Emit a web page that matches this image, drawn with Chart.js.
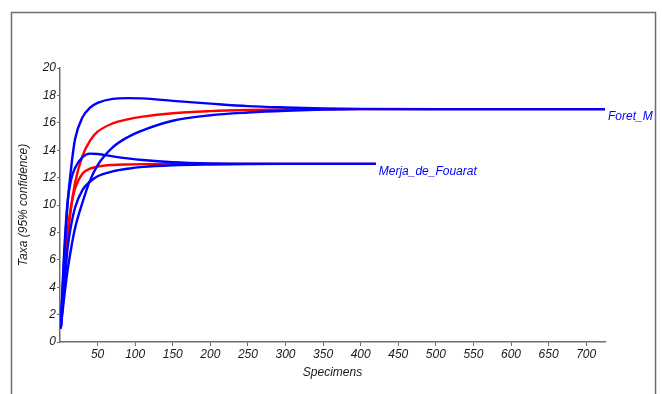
<!DOCTYPE html>
<html>
<head>
<meta charset="utf-8">
<script src="https://cdn.jsdelivr.net/npm/chart.js@4.4.1/dist/chart.umd.min.js"></script>
<style>
  html, body { margin: 0; padding: 0; background: #fff; }
</style>
</head>
<body>
<canvas id="rarefaction" width="662" height="394"></canvas>
<script>
// specimens sampled along each rarefaction curve
const foretN = [1, 5, 10, 15, 20, 30, 40, 50, 70, 90, 110, 150, 200, 250, 300, 350, 400, 500, 600, 725];
const merjaN = [1, 5, 10, 15, 20, 30, 40, 50, 70, 90, 110, 150, 200, 250, 300, 350, 420];

// Foret_M : expected taxa and 95% bounds
const foretMean  = [1, 4.3, 7.6, 9.9, 11.6, 13.6, 14.7, 15.35, 15.95, 16.25, 16.45, 16.7, 16.85, 16.93, 16.97, 16.99, 17, 17, 17, 17];
const foretUpper = [1, 5.5, 10, 12.8, 14.8, 16.4, 17.1, 17.45, 17.75, 17.8, 17.78, 17.6, 17.4, 17.22, 17.12, 17.05, 17.02, 17, 17, 17];
const foretLower = [1, 3.0, 5.2, 6.9, 8.3, 10.2, 11.8, 12.9, 14.2, 14.95, 15.45, 16.15, 16.55, 16.75, 16.88, 16.96, 17, 17, 17, 17];

// Merja_de_Fouarat
const merjaMean  = [1, 4.6, 8.0, 10.0, 11.2, 12.3, 12.65, 12.8, 12.92, 12.96, 12.98, 13, 13, 13, 13, 13, 13];
const merjaUpper = [1, 6.0, 10.2, 11.9, 12.7, 13.5, 13.75, 13.72, 13.55, 13.4, 13.28, 13.12, 13.03, 13, 13, 13, 13];
const merjaLower = [1, 3.5, 6.8, 8.6, 9.8, 11.1, 11.7, 12.1, 12.45, 12.65, 12.78, 12.9, 12.96, 12.99, 13, 13, 13];

const yTicks = [0, 2, 4, 6, 8, 10, 12, 14, 16, 18, 20];
const xTicks = [50, 100, 150, 200, 250, 300, 350, 400, 450, 500, 550, 600, 650, 700];

const BLUE = '#0000ff';
const RED = '#ff0000';
const FONT = 'Liberation Sans, Arial, sans-serif';

function pts(xs, ys) {
  return xs.map((x, i) => ({ x: x, y: ys[i] }));
}

function curve(label, xs, ys, color) {
  return {
    label: label,
    data: pts(xs, ys),
    borderColor: color,
    backgroundColor: color,
    borderWidth: 2.4,
    pointRadius: 0,
    showLine: true,
    fill: false,
    cubicInterpolationMode: 'monotone'
  };
}

// outer frame (left, top, right only)
const framePlugin = {
  id: 'frame',
  beforeDraw(chart) {
    const c = chart.ctx;
    c.save();
    c.strokeStyle = '#6e6e6e';
    c.lineWidth = 1.5;
    c.beginPath();
    c.moveTo(11.5, 394);
    c.lineTo(11.5, 12.5);
    c.lineTo(655.5, 12.5);
    c.lineTo(655.5, 394);
    c.stroke();
    c.restore();
  }
};

// sample names written at the end of each curve
const endLabels = [
  { text: 'Foret_M', x: foretN[foretN.length - 1], y: foretMean[foretMean.length - 1] },
  { text: 'Merja_de_Fouarat', x: merjaN[merjaN.length - 1], y: merjaMean[merjaMean.length - 1] }
];

const labelPlugin = {
  id: 'endLabels',
  afterDatasetsDraw(chart) {
    const c = chart.ctx;
    const xs = chart.scales.x, ys = chart.scales.y;
    c.save();
    c.beginPath();
    c.rect(0, 0, 654.5, 394);
    c.clip();
    c.fillStyle = BLUE;
    c.font = 'italic 12px ' + FONT;
    c.textBaseline = 'middle';
    endLabels.forEach(l => {
      c.fillText(l.text, xs.getPixelForValue(l.x) + 3, ys.getPixelForValue(l.y) + 8);
    });
    c.restore();
  }
};

new Chart(document.getElementById('rarefaction'), {
  type: 'scatter',
  data: {
    // first dataset is painted last, so the blue bounds sit on top
    datasets: [
      curve('Foret_M upper', foretN, foretUpper, BLUE),
      curve('Foret_M lower', foretN, foretLower, BLUE),
      curve('Merja_de_Fouarat upper', merjaN, merjaUpper, BLUE),
      curve('Merja_de_Fouarat lower', merjaN, merjaLower, BLUE),
      curve('Foret_M mean', foretN, foretMean, RED),
      curve('Merja_de_Fouarat mean', merjaN, merjaMean, RED)
    ]
  },
  options: {
    responsive: false,
    animation: false,
    layout: { padding: { left: 16, top: 68, right: 57, bottom: 14 } },
    plugins: {
      legend: { display: false },
      tooltip: { enabled: false }
    },
    scales: {
      x: {
        type: 'linear',
        min: 0,
        max: 725,
        afterFit(s) { s.height = 38; },
        afterBuildTicks(s) { s.ticks = xTicks.map(v => ({ value: v })); },
        border: { color: '#6e6e6e', width: 1.5 },
        grid: { display: true, drawOnChartArea: false, drawTicks: true, tickLength: 4, color: '#6e6e6e' },
        ticks: {
          maxRotation: 0,
          autoSkip: false,
          padding: 1,
          color: '#1a1a1a',
          font: { family: FONT, size: 12, style: 'italic' }
        },
        title: {
          display: true,
          text: 'Specimens',
          color: '#1a1a1a',
          padding: { top: 0, bottom: 0 },
          font: { family: FONT, size: 12, style: 'italic' }
        }
      },
      y: {
        min: 0,
        max: 20,
        afterFit(s) { s.width = 44; },
        afterBuildTicks(s) { s.ticks = yTicks.map(v => ({ value: v })); },
        border: { color: '#6e6e6e', width: 1.5 },
        grid: { display: true, drawOnChartArea: false, drawTicks: true, tickLength: 3, color: '#6e6e6e' },
        ticks: {
          padding: 1,
          color: '#1a1a1a',
          font: { family: FONT, size: 12, style: 'italic' }
        },
        title: {
          display: true,
          text: 'Taxa (95% confidence)',
          color: '#1a1a1a',
          padding: 0,
          font: { family: FONT, size: 12, style: 'italic' }
        }
      }
    }
  },
  plugins: [framePlugin, labelPlugin]
});
</script>
</body>
</html>
